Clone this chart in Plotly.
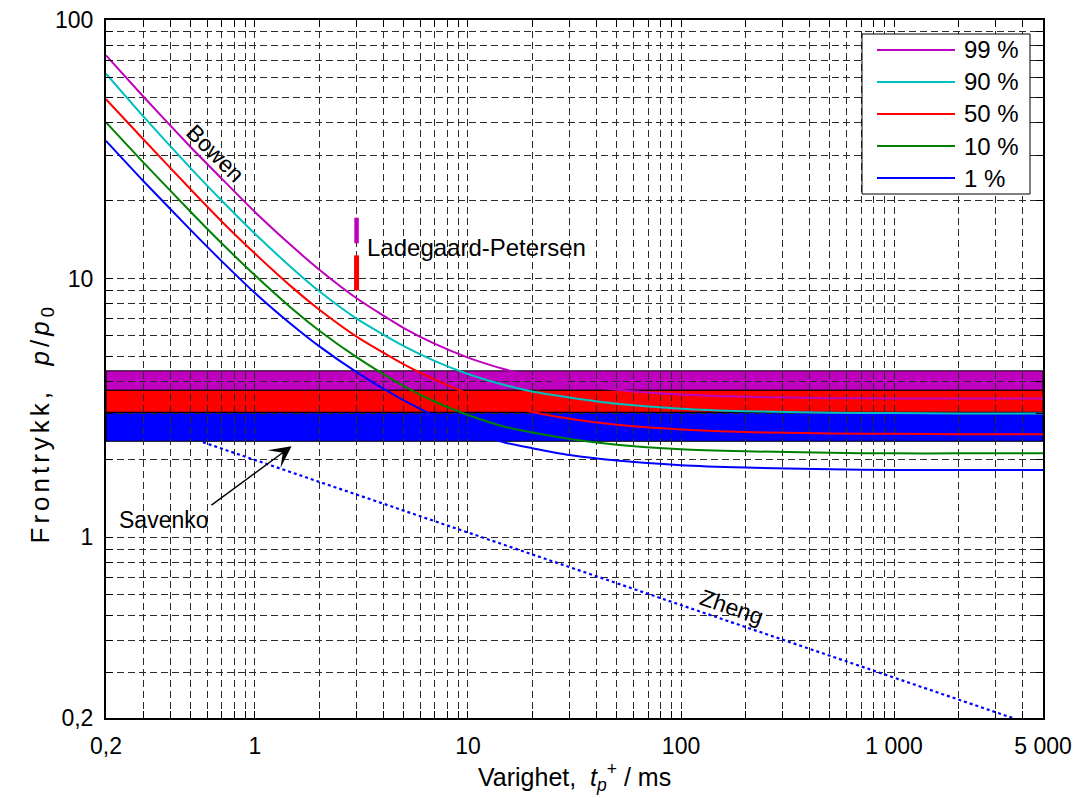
import math
import plotly.graph_objects as go

# ---------------- data ----------------
t_ms = [0.2, 0.3, 0.5, 0.7, 1, 1.5, 2, 3, 5, 7, 10, 15, 20, 30, 50, 100, 200, 500, 1000, 2000, 5000]
p99 = [73.0, 50.5, 32.2, 24.3, 18.1, 13.3, 10.85, 8.4, 6.44, 5.59, 4.95, 4.45, 4.19, 3.93, 3.72, 3.56, 3.49, 3.45, 3.44, 3.44, 3.44]
p90 = [62.0, 42.3, 26.7, 20.0, 14.9, 10.95, 8.95, 7.0, 5.48, 4.80, 4.28, 3.87, 3.66, 3.47, 3.28, 3.14, 3.07, 3.03, 3.02, 3.01, 3.01]
p50 = [49.4, 34.5, 22.1, 16.6, 12.5, 9.23, 7.6, 5.97, 4.66, 4.07, 3.60, 3.23, 3.05, 2.87, 2.72, 2.61, 2.55, 2.52, 2.51, 2.50, 2.50]
p10 = [40.2, 28.1, 18.1, 13.67, 10.3, 7.63, 6.3, 4.97, 3.84, 3.34, 2.97, 2.67, 2.54, 2.40, 2.28, 2.19, 2.15, 2.12, 2.11, 2.11, 2.11]
p01 = [34.1, 23.8, 15.4, 11.66, 8.8, 6.6, 5.48, 4.35, 3.38, 2.94, 2.59, 2.32, 2.21, 2.08, 1.98, 1.90, 1.86, 1.83, 1.82, 1.82, 1.82]

series_names = ["99 %", "90 %", "50 %", "10 %", "1 %"]
series_values = [p99, p90, p50, p10, p01]
series_colors = ["#BF00BF", "#00BFBF", "#FF0000", "#008000", "#0000FF"]

# Savenko bands (lower, upper)
band_ranges = [(3.7, 4.4), (3.04, 3.7), (2.35, 3.04)]
band_colors = ["#BF00BF", "#FF0000", "#0000FF"]

# Ladegaard-Petersen markers
lp_t = [3.0, 3.0]
lp99 = [13.7, 17.2]
lp50 = [9.0, 12.3]

# Zheng line
zheng_t = [0.57, 3600]
zheng_p = [2.33, 0.2]

x_range = [0.2, 5000]
y_range = [0.2, 100]

x_tickvals = [0.2, 0.3, 0.4, 0.5, 0.6, 0.7, 0.8, 0.9,
              1, 2, 3, 4, 5, 6, 7, 8, 9,
              10, 20, 30, 40, 50, 60, 70, 80, 90,
              100, 200, 300, 400, 500, 600, 700, 800, 900,
              1000, 2000, 3000, 4000, 5000]
x_labels = {0.2: "0,2", 1: "1", 10: "10", 100: "100", 1000: "1\u00a0000", 5000: "5\u00a0000"}
y_tickvals = [0.2, 0.3, 0.4, 0.5, 0.6, 0.7, 0.8, 0.9,
              1, 2, 3, 4, 5, 6, 7, 8, 9,
              10, 20, 30, 40, 50, 60, 70, 80, 90, 100]
y_labels = {0.2: "0,2", 1: "1", 10: "10", 100: "100"}

# ---------------- layout geometry ----------------
W, H = 1076, 798
ML, MR, MT, MB = 106, 33, 20, 80
PW, PH = W - ML - MR, H - MT - MB
FONT = "Liberation Sans, Arial, sans-serif"
FS = 23


def px_x(px):
    return (px - ML) / PW


def px_y(py):
    return (H - MB - py) / PH


fig = go.Figure()

# curves
for name, vals, col in zip(series_names, series_values, series_colors):
    fig.add_trace(go.Scatter(x=t_ms, y=vals, mode="lines", name=name,
                             line=dict(color=col, width=2, shape="spline", smoothing=0.6),
                             showlegend=False, hoverinfo="skip"))

# Zheng
fig.add_trace(go.Scatter(x=zheng_t, y=zheng_p, mode="lines",
                         line=dict(color="#0000FF", width=2.2, dash="dot"),
                         showlegend=False, hoverinfo="skip"))

# Ladegaard-Petersen bars
fig.add_trace(go.Scatter(x=lp_t, y=lp99, mode="lines", line=dict(color="#BF00BF", width=4.5),
                         showlegend=False, hoverinfo="skip"))
fig.add_trace(go.Scatter(x=lp_t, y=lp50, mode="lines", line=dict(color="#FF0000", width=5),
                         showlegend=False, hoverinfo="skip"))

shapes = []
for (lo, hi), col in zip(band_ranges, band_colors):
    shapes.append(dict(type="rect", xref="x", yref="y", x0=x_range[0], x1=x_range[1],
                       y0=lo, y1=hi, fillcolor=col, line=dict(color="black", width=1),
                       layer="below"))

# custom legend
leg_x0, leg_x1 = px_x(862), px_x(1030)
leg_y1, leg_y0 = px_y(34), px_y(194)
shapes.append(dict(type="rect", xref="paper", yref="paper", x0=leg_x0, x1=leg_x1,
                   y0=leg_y0, y1=leg_y1, fillcolor="white", line=dict(color="black", width=1),
                   layer="above"))
annotations = []
row_h = (leg_y1 - leg_y0) / len(series_names)
for i, (name, col) in enumerate(zip(series_names, series_colors)):
    yy = leg_y1 - (i + 0.5) * row_h
    shapes.append(dict(type="line", xref="paper", yref="paper", x0=px_x(877), x1=px_x(955),
                       y0=yy, y1=yy, line=dict(color=col, width=2), layer="above"))
    annotations.append(dict(xref="paper", yref="paper", x=px_x(962), y=yy, text=name,
                            showarrow=False, xanchor="left", yanchor="middle",
                            font=dict(family=FONT, size=FS + 1, color="black")))

L = math.log10
# text labels on chart
annotations += [
    dict(x=L(0.65), y=L(30.5), text="Bowen", textangle=45, showarrow=False,
         font=dict(family=FONT, size=FS, color="black")),
    dict(x=L(173), y=L(0.535), text="Zheng", textangle=19, showarrow=False,
         font=dict(family=FONT, size=FS, color="black")),
    dict(x=L(3.3), y=L(13.2), text="Ladegaard-Petersen", showarrow=False, xanchor="left",
         yanchor="middle", font=dict(family=FONT, size=FS + 1, color="black")),
    dict(x=L(0.226), y=L(1.17), text="Savenko", showarrow=False, xanchor="left",
         yanchor="middle", font=dict(family=FONT, size=FS, color="black")),
    dict(x=L(1.486), y=L(2.25), ax=L(0.615), ay=L(1.318), axref="x", ayref="y", text="",
         showarrow=True, arrowhead=3, arrowsize=2.6, arrowwidth=1.4, arrowcolor="black"),
    # axis titles
    dict(xref="paper", yref="paper", x=0.5, y=px_y(797), yanchor="bottom",
         text="Varighet,\u00a0\u00a0<i>t</i><sub><i>p</i></sub><sup>+</sup>\u00a0/\u00a0ms",
         showarrow=False, font=dict(family=FONT, size=FS + 2, color="black")),
    dict(xref="paper", yref="paper", x=px_x(23), y=px_y(424), textangle=-90,
         text='<span style="letter-spacing:4px">Frontrykk,\u00a0\u00a0<i>p</i>/<i>p</i><sub>0</sub></span>',
         showarrow=False, font=dict(family=FONT, size=FS + 3, color="black")),
]

axis_common = dict(
    type="log", showline=True, linecolor="black", linewidth=2, mirror="ticks",
    ticks="inside", ticklen=7, tickwidth=1, tickcolor="black",
    showgrid=True, gridcolor="#2a2a2a", gridwidth=1, griddash="7px,4px",
    tickfont=dict(family=FONT, size=FS, color="black"), zeroline=False,
    tickmode="array", ticklabelstandoff=6,
)

fig.update_layout(
    width=W, height=H,
    margin=dict(l=ML, r=MR, t=MT, b=MB, autoexpand=False),
    paper_bgcolor="white", plot_bgcolor="white",
    xaxis=dict(axis_common, range=[L(x_range[0]), L(x_range[1])], tickvals=x_tickvals,
               ticktext=[x_labels.get(v, "") for v in x_tickvals]),
    yaxis=dict(axis_common, range=[L(y_range[0]), L(y_range[1])], tickvals=y_tickvals,
               ticktext=[y_labels.get(v, "") for v in y_tickvals]),
    shapes=shapes, annotations=annotations, showlegend=False,
)

fig.write_html("out.html", config={"displayModeBar": False},
               post_script="document.body.style.margin='0';document.body.style.overflow='hidden';")
